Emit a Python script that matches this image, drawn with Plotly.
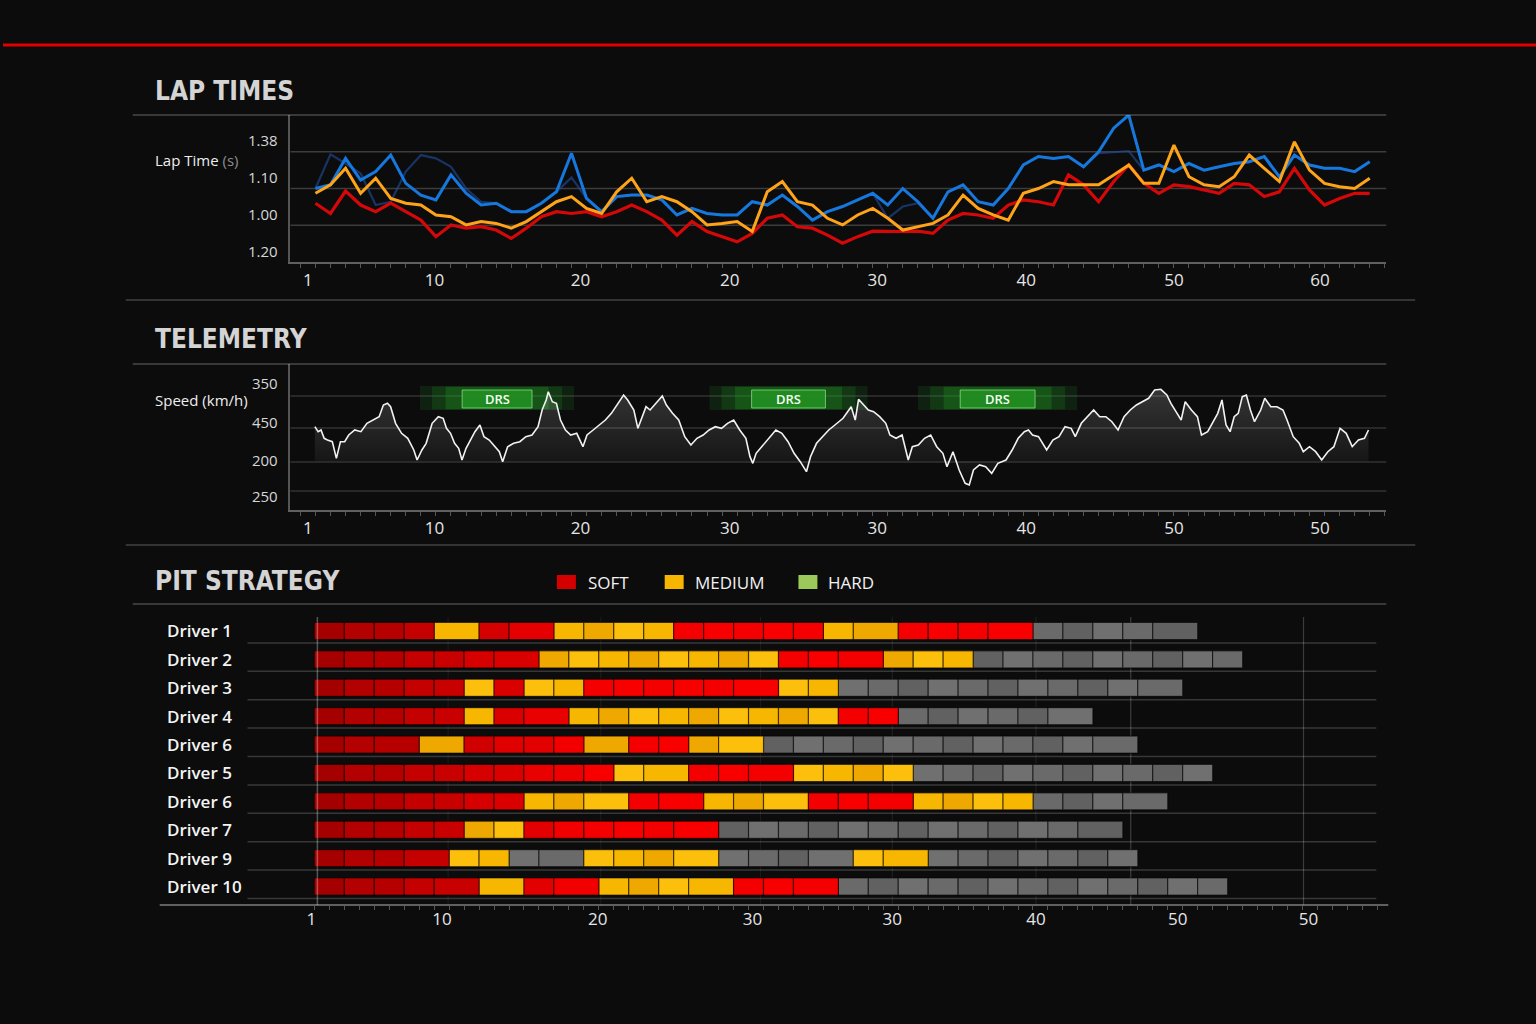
import plotly.graph_objects as go

W, H = 1536, 1024


def fx(p):
    return p / W


def fy(p):
    return 1 - p / H


# ---------------- data ----------------
laps = list(range(1, 72))
lap_blue = [2.00, 2.10, 2.82, 2.23, 2.46, 2.91, 2.14, 1.82, 1.69, 2.37,
            1.87, 1.55, 1.60, 1.37, 1.37, 1.60, 1.91, 2.96, 1.73, 1.37,
            1.78, 1.82, 1.82, 1.69, 1.28, 1.46, 1.32, 1.28, 1.28, 1.64,
            1.55, 1.82, 1.51, 1.14, 1.37,
            1.51, 1.69, 1.87, 1.55, 2.00, 1.64, 1.19, 1.91, 2.10, 1.64,
            1.55, 2.00, 2.64, 2.87, 2.82, 2.87, 2.59, 3.00, 3.64, 4.00,
            2.50, 2.64, 2.46, 2.68, 2.50, 2.59, 2.68, 2.73, 2.87, 2.32,
            2.91, 2.64, 2.55, 2.55, 2.46, 2.73]
lap_navy = [2.00, 2.93, 2.68, 2.41, 1.55, 1.64, 2.46, 2.91, 2.82, 2.59,
            2.00, 1.64,
            1.60, 1.37, 1.37, 1.60, 1.91, 2.30, 1.73, 1.37, 1.78, 1.82,
            1.82, 1.69, 1.28, 1.46, 1.32, 1.28, 1.28, 1.64, 1.55, 1.82,
            1.51, 1.14, 1.37,
            1.51, 1.69, 1.87, 1.19, 1.51, 1.60, 1.19, 1.91, 2.10, 1.64,
            1.55, 2.00, 2.64, 2.87, 2.82, 2.87, 2.59, 2.96, 3.00, 3.02,
            2.50, 2.64, 2.46, 2.68, 2.50, 2.59, 2.68, 2.73, 2.87, 2.32,
            2.91, 2.64, 2.55, 2.55, 2.46, 2.73]
lap_orange = [1.87, 2.10, 2.55, 1.87, 2.28, 1.73, 1.60, 1.55, 1.28, 1.23,
              1.01, 1.10, 1.05, 0.92, 1.10, 1.37, 1.64, 1.78, 1.46, 1.32,
              1.91, 2.28, 1.64, 1.78, 1.64, 1.37, 1.01, 1.05, 1.10, 0.83,
              1.91, 2.19, 1.64, 1.55, 1.19,
              1.01, 1.28, 1.46, 1.19, 0.87, 0.96, 1.05, 1.28, 1.82, 1.46,
              1.28, 1.14, 1.87, 2.00, 2.19, 2.10, 2.10, 2.10, 2.37, 2.64,
              2.14, 2.14, 3.18, 2.32, 2.10, 2.05, 2.32, 2.91, 2.55, 2.19,
              3.27, 2.50, 2.14, 2.05, 2.00, 2.28]
lap_red = [1.60, 1.32, 1.93, 1.55, 1.37, 1.60, 1.37, 1.14, 0.69, 1.01,
           0.92, 0.96, 0.87, 0.64, 0.92, 1.23, 1.37, 1.32, 1.37, 1.23,
           1.37, 1.55, 1.37, 1.14, 0.73, 1.10, 0.83, 0.69, 0.55, 0.78,
           1.19, 1.28, 0.96, 0.92, 0.73,
           0.51, 0.69, 0.84, 0.83, 0.83, 0.84, 0.78, 1.14, 1.32, 1.28,
           1.19, 1.55, 1.69, 1.64, 1.55, 2.37, 2.10, 1.64, 2.19, 2.64,
           2.14, 1.87, 2.10, 2.05, 1.96, 1.87, 2.14, 2.10, 1.78, 1.91,
           2.55, 1.96, 1.55, 1.73, 1.87, 1.87]
lap_xtickvals = [0.5, 8.9, 18.6, 28.5, 38.3, 48.2, 58.0, 67.7]
lap_xticktext = ["1", "10", "20", "20", "30", "40", "50", "60"]
lap_ytickvals = [0.27, 1.28, 2.29, 3.29]
lap_yticktext = ["1.20", "1.00", "1.10", "1.38"]
lap_grid = [1, 2, 3, 4]

tel_lap = [0.96, 1.18, 1.37, 1.58, 1.80, 2.12, 2.39, 2.66, 2.94, 3.21,
           3.61, 4.02, 4.42, 4.83, 5.23, 5.51, 5.78, 5.99, 6.32, 6.72,
           7.13, 7.53, 7.75, 8.07, 8.35, 8.75, 9.16, 9.48, 9.70, 9.97,
           10.24, 10.51, 10.73, 11.00, 11.32, 11.59, 11.92, 12.19, 12.54, 12.94,
           13.21, 13.43, 13.76, 14.16, 14.57, 14.97, 15.38, 15.78, 16.05, 16.32,
           16.46, 16.73, 17.00, 17.27, 17.60, 17.95, 18.35, 18.76, 19.03, 19.44,
           19.84, 20.25, 20.65, 21.06, 21.46, 21.73, 22.14, 22.41, 22.68, 22.95,
           23.22, 23.63, 24.03, 24.30, 24.71, 25.12, 25.52, 25.93, 26.33, 26.74,
           27.14, 27.55, 27.96, 28.36, 28.77, 29.17, 29.58, 29.85, 30.04, 30.26,
           31.03, 31.57, 31.97, 32.38, 32.78, 33.19, 33.60, 33.87, 34.27, 34.68,
           35.08, 35.49, 36.03, 36.57, 36.84, 37.06, 37.38, 37.71, 38.06, 38.46,
           38.87, 39.14, 39.55, 39.95, 40.36, 40.63, 41.03, 41.44, 41.85, 42.25,
           42.66, 42.93, 43.33, 43.74, 44.14, 44.41, 44.69, 45.09, 45.50, 45.90,
           46.31, 46.85, 47.26, 47.66, 48.07, 48.34, 48.61, 49.01, 49.55, 49.96,
           50.37, 50.77, 51.18, 51.45, 51.85, 52.26, 52.67, 53.07, 53.48, 53.88,
           54.29, 54.69, 55.10, 55.51, 55.91, 56.32, 56.72, 57.13, 57.53, 57.80,
           58.21, 58.48, 58.75, 59.16, 59.56, 59.83, 60.24, 60.64, 60.91, 61.19,
           61.46, 61.73, 62.00, 62.27, 62.54, 62.81, 63.08, 63.35, 63.76, 64.03,
           64.43, 64.84, 65.24, 65.51, 65.92, 66.32, 66.59, 67.00, 67.41, 67.81,
           68.22, 68.62, 69.03, 69.44, 69.84, 70.25, 70.65, 70.92]
tel_speed = [258.3, 245.8, 250, 229.2, 225, 220.8, 179.2, 220.8, 220.8, 237.5,
             250, 245.8, 266.7, 275, 283.3, 312.5, 316.7, 308.3, 266.7, 241.7,
             229.2, 200, 175, 200, 216.7, 266.7, 283.3, 279.2, 254.2, 241.7,
             216.7, 204.2, 175, 204.2, 225, 245.8, 262.5, 233.3, 225, 208.3,
             195.8, 170.8, 208.3, 216.7, 220.8, 233.3, 237.5, 258.3, 300, 325,
             345.8, 320.8, 316.7, 275, 250, 237.5, 241.7, 208.3, 237.5, 250,
             262.5, 275, 291.7, 316.7, 337.5, 325, 300, 254.2, 283.3, 308.3,
             300, 316.7, 335, 312.5, 291.7, 275, 233.3, 212.5, 229.2, 237.5,
             250, 258.3, 254.2, 266.7, 275, 250, 229.2, 183.3, 166.7, 191.7,
             225, 250, 241.7, 220.8, 191.7, 170.8, 145.8, 183.3, 216.7, 233.3,
             250, 262.5, 279.2, 308.3, 275, 326.7, 312.5, 300, 295.8, 283.3,
             266.7, 237.5, 229.2, 237.5, 175, 208.3, 212.5, 229.2, 237.5, 208.3,
             191.7, 158.3, 195.8, 150, 116.7, 112.5, 150, 162.5, 158.3, 141.7,
             166.7, 175, 200, 229.2, 245.8, 250, 237.5, 233.3, 200, 225,
             233.3, 258.3, 254.2, 233.3, 266.7, 283.3, 300, 283.3, 283.3, 270.8,
             250, 283.3, 300, 312.5, 320.8, 329.2, 350, 351.7, 337.5, 316.7,
             291.7, 275, 320.8, 300, 283.3, 237.5, 245.8, 275, 291.7, 325,
             262.5, 245.8, 283.3, 291.7, 333.3, 337.5, 300, 270.8, 300, 329.2,
             308.3, 308.3, 300, 275, 233.3, 216.7, 195.8, 208.3, 195.8, 175,
             195.8, 208.3, 254.2, 241.7, 208.3, 225, 229.2, 250]
tel_xticktext = ["1", "10", "20", "30", "30", "40", "50", "50"]
tel_ytickvals = [82.5, 172.5, 267.5, 365]
tel_yticktext = ["250", "200", "450", "350"]
tel_grid = [97.5, 170, 255, 335]
drs_start = [10.74, 29.96, 43.81]
drs_end = [15.38, 34.86, 48.78]

drivers = ["Driver 1", "Driver 2", "Driver 3", "Driver 4", "Driver 6",
           "Driver 5", "Driver 6", "Driver 7", "Driver 9", "Driver 10"]
stint_compound = [
    ["S", "M", "S", "M", "S", "M", "S", "X"],
    ["S", "M", "S", "M", "X"],
    ["S", "M", "S", "M", "S", "M", "X"],
    ["S", "M", "S", "M", "S", "X"],
    ["S", "M", "S", "M", "S", "M", "X"],
    ["S", "M", "S", "M", "X"],
    ["S", "M", "S", "M", "S", "M", "X"],
    ["S", "M", "S", "X"],
    ["S", "M", "X", "M", "X", "M", "X"],
    ["S", "M", "S", "M", "S", "X"],
]
stint_laps = [
    [8, 3, 5, 8, 10, 5, 9, 11],
    [15, 16, 7, 6, 18],
    [10, 2, 2, 4, 13, 4, 23],
    [10, 2, 5, 18, 4, 13],
    [7, 3, 8, 3, 4, 5, 25],
    [20, 5, 7, 8, 20],
    [14, 7, 5, 7, 7, 8, 9],
    [10, 4, 13, 27],
    [9, 4, 5, 9, 9, 5, 14],
    [11, 3, 5, 9, 7, 26],
]
pit_xtickvals = [-0.2, 8.53, 18.93, 29.27, 38.6, 48.2, 57.67, 66.4]
pit_xticktext = ["1", "10", "20", "30", "30", "40", "50", "50"]
legend_labels = ["SOFT", "MEDIUM", "HARD"]

# ---------------- style ----------------
NARROW = "DejaVu Sans Condensed, Liberation Sans Narrow, sans-serif"
SANS = "Open Sans, Noto Sans, sans-serif"
GRID = "rgba(255,255,255,0.20)"
legend_colors = ["#d40000", "#f7b500", "#9cc95a"]

fig = go.Figure()

# lap times
fig.add_trace(go.Scatter(x=laps, y=lap_navy, mode="lines", xaxis="x", yaxis="y",
                         line=dict(color="#1f4f9e", width=2.2), opacity=0.6,
                         showlegend=False, hoverinfo="skip"))
fig.add_trace(go.Scatter(x=laps, y=lap_blue, mode="lines", xaxis="x", yaxis="y",
                         line=dict(color="#1677dc", width=3), showlegend=False))
fig.add_trace(go.Scatter(x=laps, y=lap_red, mode="lines", xaxis="x", yaxis="y",
                         line=dict(color="#d40808", width=3.2), showlegend=False))
fig.add_trace(go.Scatter(x=laps, y=lap_orange, mode="lines", xaxis="x", yaxis="y",
                         line=dict(color="#ffa418", width=3), showlegend=False))

# telemetry
fig.add_trace(go.Scatter(x=[tel_lap[0], tel_lap[-1]], y=[172, 172], mode="lines",
                         xaxis="x2", yaxis="y2", line=dict(width=0),
                         showlegend=False, hoverinfo="skip"))
fig.add_trace(go.Scatter(x=tel_lap, y=tel_speed, mode="lines", xaxis="x2", yaxis="y2",
                         line=dict(color="#f2f2f2", width=1.6),
                         fill="tonexty",
                         fillgradient=dict(type="vertical",
                                           colorscale=[[0, "rgba(255,255,255,0.0)"],
                                                       [1, "rgba(255,255,255,0.17)"]]),
                         showlegend=False))

# pit strategy blocks
blocks = {"S": ([], [], [], []), "M": ([], [], [], []), "X": ([], [], [], [])}
med_shades = ["#f7b600", "#efa800", "#fbbf0c"]
gray_shades = ["#6a6a6a", "#616161", "#707070"]
for row, (comps, lens) in enumerate(zip(stint_compound, stint_laps)):
    u = 0
    for comp, n in zip(comps, lens):
        chunks = [2] * (n // 2)
        if n % 2:
            if chunks:
                chunks[-1] += 1
            else:
                chunks = [1]
        for k, w in enumerate(chunks):
            ys, bases, widths, cols = blocks[comp]
            ys.append(row)
            bases.append(u)
            widths.append(w)
            if comp == "S":
                t = min(u / 18.0, 1.0)
                r = int(165 + 80 * t + (6 if k % 2 else 0))
                cols.append("rgb(%d,%d,%d)" % (min(r, 248), 0, 0))
            elif comp == "M":
                cols.append(med_shades[(row + k) % 3])
            else:
                cols.append(gray_shades[(row + k) % 3])
            u += w

for comp in ["X", "M", "S"]:
    ys, bases, widths, cols = blocks[comp]
    fig.add_trace(go.Bar(y=ys, x=widths, base=bases, orientation="h",
                         xaxis="x3", yaxis="y3", width=0.6,
                         marker=dict(color=cols, line=dict(color="rgba(0,0,0,0.55)", width=1.2)),
                         showlegend=False))

shapes = []
annotations = []


def hline(py, x0, x1, color=GRID, width=1.5):
    shapes.append(dict(type="line", xref="paper", yref="paper", x0=fx(x0), x1=fx(x1),
                       y0=fy(py), y1=fy(py), line=dict(color=color, width=width)))


# frame lines
hline(45, 0, 1536, "#e00000", 3)
hline(115, 130, 1386, "rgba(255,255,255,0.25)")
hline(300, 123, 1415, "rgba(255,255,255,0.22)")
hline(364, 130, 1386, "rgba(255,255,255,0.25)")
hline(545, 123, 1415, "rgba(255,255,255,0.22)")
hline(604, 130, 1386, "rgba(255,255,255,0.25)")
hline(905, 157, 1388, "rgba(255,255,255,0.35)", 2)

for g in lap_grid[:-1]:
    shapes.append(dict(type="line", xref="x domain", yref="y", x0=0, x1=1, y0=g, y1=g,
                       line=dict(color=GRID, width=1.5), layer="below"))
for g in tel_grid:
    shapes.append(dict(type="line", xref="x2 domain", yref="y2", x0=0, x1=1, y0=g, y1=g,
                       line=dict(color="rgba(255,255,255,0.16)", width=1.5), layer="below"))

# DRS zones (glow built from stacked translucent rectangles)
for s, e in zip(drs_start, drs_end):
    for pad, dy, alpha in [(2.8, 0, 0.14), (2.0, 1, 0.18), (1.1, 2, 0.26)]:
        shapes.append(dict(type="rect", xref="x2", yref="y2", x0=s - pad, x1=e + pad,
                           y0=300 + dy, y1=360 - dy,
                           fillcolor="rgba(35,165,35,%.2f)" % alpha,
                           line=dict(width=0), layer="below"))
    shapes.append(dict(type="rect", xref="x2", yref="y2", x0=s, x1=e, y0=305, y1=350,
                       fillcolor="rgba(34,142,34,0.92)",
                       line=dict(color="rgba(140,225,140,0.75)", width=1)))
    annotations.append(dict(x=(s + e) / 2, y=327.5, xref="x2", yref="y2", text="DRS",
                            showarrow=False, yanchor="middle",
                            font=dict(family=SANS, size=13, color="#f4fff4", weight=600)))

# pit strategy grid
for i in range(len(drivers)):
    shapes.append(dict(type="line", xref="paper", yref="y3", x0=fx(245), x1=fx(1376),
                       y0=i + 0.42, y1=i + 0.42,
                       line=dict(color="rgba(255,255,255,0.18)", width=1.5), layer="below"))
    annotations.append(dict(x=fx(162), y=i, xref="paper", yref="y3", text=drivers[i],
                            xanchor="left", yanchor="middle", showarrow=False,
                            font=dict(family=SANS, size=17, color="#f4f4f4", weight=600)))
for u, a in [(8.93, 0.06), (19.13, 0.06), (29.8, 0.06), (38.6, 0.08), (48.2, 0.08),
             (54.53, 0.2), (66.07, 0.2)]:
    shapes.append(dict(type="line", xref="x3", yref="paper", x0=u, x1=u,
                       y0=fy(905), y1=fy(617),
                       line=dict(color="rgba(255,255,255,%.2f)" % a, width=1.2), layer="below"))
shapes.append(dict(type="line", xref="paper", yref="paper", x0=fx(315), x1=fx(315),
                   y0=fy(905), y1=fy(617), line=dict(color="rgba(255,255,255,0.3)", width=1.5)))

# legend
for lab, col, sx, tx in zip(legend_labels, legend_colors, [555, 663, 797], [584, 691, 825]):
    shapes.append(dict(type="rect", xref="paper", yref="paper", x0=fx(sx), x1=fx(sx + 19),
                       y0=fy(589), y1=fy(575), fillcolor=col, line=dict(width=0)))
    annotations.append(dict(x=fx(tx), y=fy(582), xref="paper", yref="paper", text=lab,
                            xanchor="left", yanchor="middle", showarrow=False,
                            font=dict(family=SANS, size=17, color="#f2f2f2", weight=500)))

# titles and labels
for txt, py in [("LAP TIMES", 91), ("TELEMETRY", 339), ("PIT STRATEGY", 581)]:
    annotations.append(dict(x=fx(150), y=fy(py), xref="paper", yref="paper", text=txt,
                            xanchor="left", yanchor="middle", showarrow=False,
                            font=dict(family=NARROW, size=26, color="#d4d4d4", weight=700)))
annotations.append(dict(x=fx(150), y=fy(160), xref="paper", yref="paper",
                        text="Lap Time <span style='color:#8c8c8c'>(s)</span>",
                        xanchor="left", yanchor="middle", showarrow=False,
                        font=dict(family=SANS, size=15, color="#eeeeee")))
annotations.append(dict(x=fx(150), y=fy(400), xref="paper", yref="paper",
                        text="Speed (km/h)", xanchor="left", yanchor="middle", showarrow=False,
                        font=dict(family=SANS, size=15, color="#eeeeee")))

xstyle = dict(showgrid=False, zeroline=False, tickmode="array", ticks="",
              tickfont=dict(family=SANS, size=17, color="#e6e6e6"),
              minor=dict(ticks="outside", ticklen=4, tick0=0, dtick=1,
                         tickcolor="rgba(255,255,255,0.3)"),
              ticklabelstandoff=2)
ystyle = dict(showgrid=False, zeroline=False, tickmode="array", ticks="",
              showline=True, linecolor="rgba(255,255,255,0.3)", linewidth=1.5,
              tickfont=dict(family=SANS, size=15, color="#d6d6d6"),
              ticklabelstandoff=8)

fig.update_layout(
    width=W, height=H, autosize=False,
    margin=dict(l=0, r=0, t=0, b=0),
    paper_bgcolor="#0c0c0d", plot_bgcolor="rgba(0,0,0,0)",
    barmode="overlay", showlegend=False,
    xaxis=dict(xstyle, domain=[fx(288), fx(1386)], range=[-0.66, 72.1], anchor="y",
               tickvals=lap_xtickvals, ticktext=lap_xticktext,
               showline=True, linecolor="rgba(255,255,255,0.35)", linewidth=1.5),
    yaxis=dict(ystyle, domain=[fy(262), fy(115)], range=[0, 4], anchor="x",
               tickvals=lap_ytickvals, ticktext=lap_yticktext),
    xaxis2=dict(xstyle, domain=[fx(288), fx(1386)], range=[-0.66, 72.1], anchor="y2",
                tickvals=lap_xtickvals, ticktext=tel_xticktext,
                showline=True, linecolor="rgba(255,255,255,0.35)", linewidth=1.5),
    yaxis2=dict(ystyle, domain=[fy(510), fy(364)], range=[50, 415], anchor="x2",
                tickvals=tel_ytickvals, ticktext=tel_yticktext),
    xaxis3=dict(xstyle, domain=[fx(307.5), fx(1386)], range=[-0.3, 71.6], anchor="y3",
                tickvals=pit_xtickvals, ticktext=pit_xticktext, showline=False),
    yaxis3=dict(domain=[fy(905), fy(604)], range=[9.65, -0.95], anchor="x3",
                showgrid=False, zeroline=False, showticklabels=False, showline=False),
    shapes=shapes,
    annotations=annotations,
)

fig.write_html("out.html", config={"displayModeBar": False},
               post_script="document.body.style.margin='0';"
                           "document.body.style.overflow='hidden';")
